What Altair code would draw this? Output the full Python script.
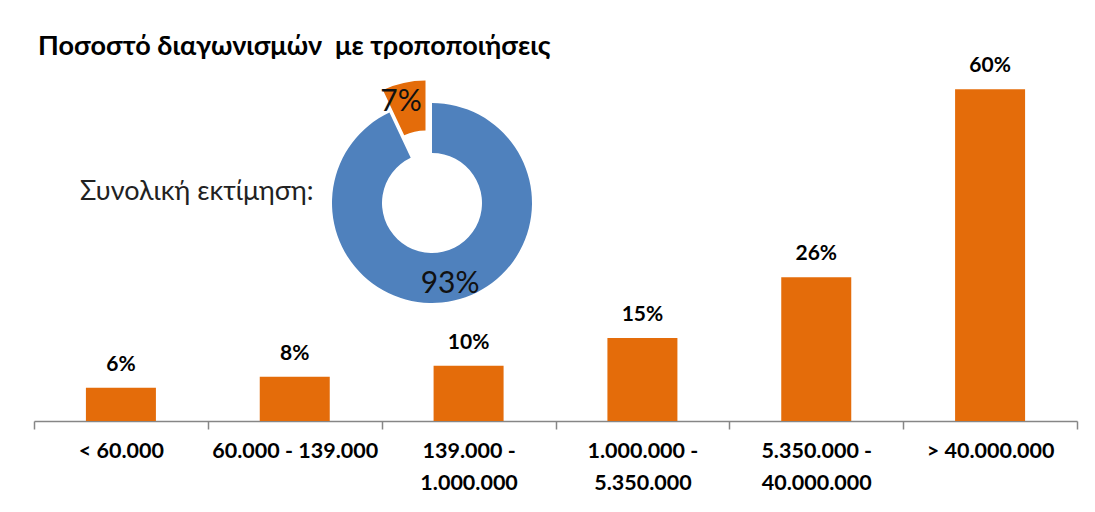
import math
import altair as alt
import pandas as pd

# ---- data ----
categories = ["< 60.000", "60.000 - 139.000", "139.000 -\n1.000.000",
              "1.000.000 -\n5.350.000", "5.350.000 -\n40.000.000", "> 40.000.000"]
shares = [6, 8, 10, 15, 26, 60]

donut_parts = ["Χωρίς τροποποιήσεις", "Με τροποποιήσεις"]
donut_shares = [93, 7]
donut_order = [0, 1]

title_text = "Ποσοστό διαγωνισμών \u00a0με τροποποιήσεις"
caption_text = "Συνολική εκτίμηση:"

# ---- style ----
FONT = "Lato"
ORANGE = "#E46C0A"
BLUE = "#4F81BD"
AXIS_GRAY = "#868686"

bars_df = pd.DataFrame({"cat": categories, "share": shares})
donut_df = pd.DataFrame({"part": donut_parts, "share": donut_shares, "order": donut_order})

x_enc = alt.X(
    "cat:N", sort=categories,
    scale=alt.Scale(paddingInner=0, paddingOuter=0),
    axis=alt.Axis(title=None, labelAngle=0, labelExpr='split(datum.label, "\\n")',
                  tickBand="extent", tickSize=8, tickWidth=1.5, tickColor=AXIS_GRAY,
                  domainColor=AXIS_GRAY, domainWidth=1.5, labelPadding=11,
                  labelBaseline="top", labelLineHeight=32, labelFont=FONT,
                  labelFontSize=21.5, labelFontWeight="bold", labelColor="#000000"),
)
y_enc = alt.Y("share:Q", scale=alt.Scale(domain=[0, 70]), axis=None)

bars = alt.Chart(bars_df).mark_bar(size=70, color=ORANGE).encode(x=x_enc, y=y_enc)
bar_labels = alt.Chart(bars_df).transform_calculate(
    label="datum.share + '%'"
).mark_text(baseline="alphabetic", dy=-17, font=FONT, fontSize=21,
            fontWeight="bold", color="#000000").encode(x=x_enc, y=y_enc, text="label:N")

theta_scale = alt.Scale(domain=[0, 100], range=[0, 2 * math.pi])
color_scale = alt.Scale(domain=donut_parts, range=[BLUE, ORANGE])

donut_base = alt.Chart(donut_df).transform_stack(
    stack="share", groupby=[], as_=["start", "end"], sort=[alt.SortField("order")]
).transform_calculate(mid="(datum.start + datum.end) / 2",
                      label="datum.share + '%'")

CX, CY = 398, 169          # donut centre
EX, EY = 391.5, 146.5      # exploded slice centre

blue_arc = donut_base.transform_filter("datum.order == 0").mark_arc(
    innerRadius=50, outerRadius=100).encode(
    theta=alt.Theta("start:Q", scale=theta_scale), theta2="end:Q",
    color=alt.Color("part:N", scale=color_scale, legend=None),
    x=alt.value(CX), y=alt.value(CY))
orange_arc = donut_base.transform_filter("datum.order == 1").mark_arc(
    innerRadius=50, outerRadius=100).encode(
    theta=alt.Theta("start:Q", scale=theta_scale), theta2="end:Q",
    color=alt.Color("part:N", scale=color_scale, legend=None),
    x=alt.value(EX), y=alt.value(EY))

blue_label = donut_base.transform_filter("datum.order == 0").mark_text(
    radius=83, font=FONT, fontSize=30, color="#111111", align="center", baseline="middle").encode(
    theta=alt.Theta("mid:Q", scale=theta_scale), text="label:N",
    x=alt.value(CX), y=alt.value(CY))
orange_label = donut_base.transform_filter("datum.order == 1").mark_text(
    radius=80, dx=-7, font=FONT, fontSize=30, color="#111111", align="center", baseline="middle").encode(
    theta=alt.Theta("mid:Q", scale=theta_scale), text="label:N",
    x=alt.value(EX), y=alt.value(EY))

title = alt.Chart(pd.DataFrame({"t": [title_text]})).mark_text(
    align="left", baseline="alphabetic", font=FONT, fontSize=27, fontWeight="bold",
    color="#000000").encode(text="t:N", x=alt.value(4), y=alt.value(21))
caption = alt.Chart(pd.DataFrame({"t": [caption_text]})).mark_text(
    align="left", baseline="alphabetic", font=FONT, fontSize=27,
    color="#222222").encode(text="t:N", x=alt.value(46), y=alt.value(166))

chart = alt.layer(
    bars, bar_labels, blue_arc, orange_arc, blue_label, orange_label, title, caption
).properties(
    width=1043, height=387,
    autosize=alt.AutoSizeParams(type="none"),
    padding={"left": 26, "top": 26, "right": 10, "bottom": 80},
).configure_view(stroke=None)

chart.save("out.html", embed_options={"renderer": "svg", "actions": False})
